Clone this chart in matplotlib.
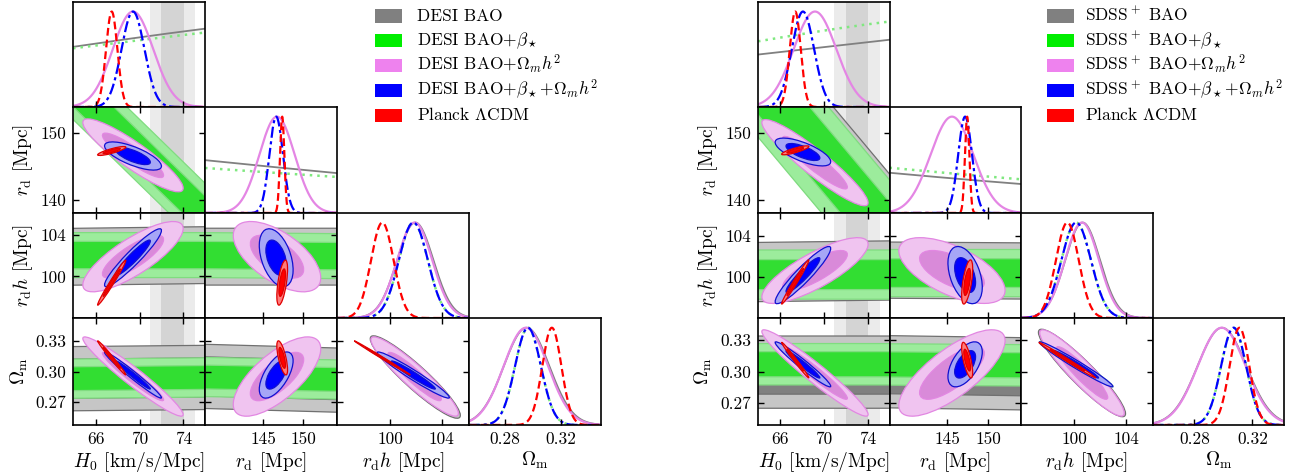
import numpy as np
import matplotlib
matplotlib.use('Agg')
import matplotlib.pyplot as plt
from matplotlib.patches import Ellipse, Rectangle

plt.rcParams['font.family'] = 'serif'
plt.rcParams['font.serif'] = ['cmr10']
plt.rcParams['mathtext.fontset'] = 'cm'
plt.rcParams['axes.formatter.use_mathtext'] = True
plt.rcParams['axes.unicode_minus'] = False

# parametros: H0, rd, rd*h, Omega_m
param_labels = [r'$H_0$ [km/s/Mpc]', r'$r_\mathrm{d}$ [Mpc]',
                r'$r_\mathrm{d}h$ [Mpc]', r'$\Omega_\mathrm{m}$']
x_ticks = [[66, 70, 74], [145, 150], [100, 104], [0.28, 0.32]]
x_tick_labels = [['66', '70', '74'], ['145', '150'], ['100', '104'], ['0.28', '0.32']]
y_ticks = [[], [140, 150], [100, 104], [0.27, 0.30, 0.33]]
y_tick_labels = [[], ['140', '150'], ['100', '104'], ['0.27', '0.30', '0.33']]
# ordem dos pares nas listas de correlacao
pairs = [(0, 1), (0, 2), (0, 3), (1, 2), (1, 3), (2, 3)]

# SH0ES
shoes_h0 = 73.04
shoes_sigma = 1.04

desi_labels = ['DESI BAO', r'DESI BAO$+\beta_\star$', r'DESI BAO$+\Omega_m h^2$',
               r'DESI BAO$+\beta_\star{+}\Omega_m h^2$', r'Planck $\Lambda$CDM']
sdss_labels = [r'SDSS$^+$ BAO', r'SDSS$^+$ BAO$+\beta_\star$', r'SDSS$^+$ BAO$+\Omega_m h^2$',
               r'SDSS$^+$ BAO$+\beta_\star{+}\Omega_m h^2$', r'Planck $\Lambda$CDM']

# ---- DESI ----
desi_xlim = [(63.9, 76.0), (137.7, 154.2), (95.9, 106.1), (0.2545, 0.3485)]
desi_ylim = [(0, 1.1), (138.05, 153.95), (96.0, 106.1), (0.247, 0.353)]

desi_om_mean = [69.4, 146.7, 101.9, 0.295]
desi_om_std = [1.85, 2.2, 1.36, 0.0158]
desi_om_corr = [-0.9, 0.8, -0.96, -0.6, 0.7, -0.93]
desi_all_mean = [69.4, 146.6, 101.8, 0.2965]
desi_all_std = [1.05, 0.85, 1.12, 0.0092]
desi_all_corr = [-0.72, 0.94, -0.98, -0.42, 0.62, -0.97]
desi_planck_mean = [67.45, 147.35, 99.4, 0.3135]
desi_planck_std = [0.52, 0.27, 0.87, 0.0068]
desi_planck_corr = [0.85, 0.985, -0.99, 0.6, -0.7, -0.998]

# BAO e BAO+beta: curvas 1D (media, sigma) e faixas 2D (mx, my, sx, inclinacao, sigma)
desi_bao_1d_mean = [98.9, 59.9, 101.95, 0.2955]
desi_bao_1d_std = [36.4, 71.0, 1.40, 0.0162]
desi_bs_1d_mean = [106.3, 16.8, 101.8, 0.2965]
desi_bs_1d_std = [43.0, 98.0, 1.12, 0.0092]
desi_bao_2d = [None,
               (70.0, 101.97, None, 0.013, 1.1),
               (70.0, 0.2935, None, 0.0001, 0.0128),
               (146.0, 101.9, None, 0.0, 1.1),
               (146.0, 0.2933, None, -0.000224, 0.0128),
               (101.95, 0.2945, 1.40, -0.0109, 0.0061)]
desi_bs_2d = [(70.77, 146.0, None, -1.596, 1.96),
              (70.0, 102.05, None, 0.0, 0.87),
              (70.0, 0.2935, None, 0.0001, 0.0078),
              (146.0, 102.0, None, -0.006, 0.87),
              (146.0, 0.2933, None, -0.00015, 0.0078),
              (101.8, 0.2965, 1.12, -0.0080, 0.00224)]

# ---- SDSS+ ----
sdss_xlim = [(64.0, 76.0), (138.0, 154.0), (95.9, 106.05), (0.2513, 0.3419)]
sdss_ylim = [(0, 1.1), (138.05, 153.95), (95.9, 106.3), (0.2494, 0.351)]

sdss_om_mean = [69.2, 145.6, 100.6, 0.2988]
sdss_om_std = [1.95, 2.6, 1.31, 0.0165]
sdss_om_corr = [-0.93, 0.8, -0.96, -0.6, 0.75, -0.93]
sdss_all_mean = [68.1, 147.2, 100.15, 0.307]
sdss_all_std = [1.02, 0.84, 1.14, 0.0086]
sdss_all_corr = [-0.7, 0.93, -0.97, -0.42, 0.55, -0.98]
sdss_planck_mean = [67.4, 147.45, 99.47, 0.311]
sdss_planck_std = [0.5, 0.27, 0.88, 0.0068]
sdss_planck_corr = [0.85, 0.985, -0.99, 0.6, -0.7, -0.995]

sdss_bao_1d_mean = [115.0, 45.5, 100.65, 0.2990]
sdss_bao_1d_std = [46.6, 70.0, 1.34, 0.0168]
sdss_bs_1d_mean = [90.3, 48.6, 100.15, 0.307]
sdss_bs_1d_std = [30.4, 72.7, 1.14, 0.0086]
sdss_bao_2d = [(70.39, 146.0, None, -1.96, 3.58),
               (70.0, 100.53, None, 0.013, 1.18),
               (70.0, 0.2996, None, 0.0, 0.0138),
               (146.0, 100.6, None, -0.005, 1.12),
               (146.0, 0.299, None, -0.00012, 0.0138),
               (100.6, 0.2988, 1.35, -0.0115, 0.0062)]
sdss_bs_2d = [(70.12, 146.0, None, -1.96, 3.44),
              (70.0, 100.2, None, 0.0, 0.98),
              (70.0, 0.3071, None, 0.0, 0.0079),
              (146.0, 100.35, None, 0.0, 0.94),
              (146.0, 0.3065, None, -0.00005, 0.0079),
              (100.15, 0.307, 1.14, -0.0074, 0.0017)]

# cores: BAO, BAO+beta, BAO+Omh2, todos, Planck
fill_outer = ['#c6c6c6', '#9cec9c', '#f0c4f0', '#a6a6f6', '#ff7c7c']
fill_inner = ['#808080', '#32de32', '#d98ad9', '#0000ff', '#ff0000']
edge_colors = ['#707070', '#80dc80', '#e287e2', '#1010d0', '#e00000']
line_colors = ['#808080', '#80e880', '#e486e4', '#0000ff', '#ff0000']
line_styles = ['-', (0, (1, 2)), '-', (0, (5, 1.6, 1.4, 1.6)), (0, (3.5, 1.8))]
line_widths = [1.3, 1.8, 1.6, 1.6, 1.6]
legend_colors = ['#808080', '#00ee00', '#ee82ee', '#0000ff', '#ff0000']
levels = [2.486, 1.515]  # contornos 95% e 68%

W, H = 1296, 476
fig = plt.figure(figsize=(W / 100, H / 100), dpi=100)

desi_cols = [73, 205, 337, 469, 601]
sdss_cols = [758, 889.5, 1021, 1152.7, 1284.3]
rows = [2, 107, 213, 318, 425]
legend_rows = [16, 40.5, 65.5, 90, 115]


def rect(x0, y0, x1, y1):
    return [x0 / W, 1 - y1 / H, (x1 - x0) / W, (y1 - y0) / H]


def add_contours(ax, mx, my, cov, k):
    vals, vecs = np.linalg.eigh(cov)
    ang = np.degrees(np.arctan2(vecs[1, 1], vecs[0, 1]))
    for n, (r, fc) in enumerate(zip(levels, [fill_outer[k], fill_inner[k]])):
        ax.add_patch(Ellipse((mx, my), 2 * r * np.sqrt(vals[1]), 2 * r * np.sqrt(vals[0]),
                             angle=ang, facecolor=fc, edgecolor=edge_colors[k],
                             lw=0.9, zorder=1 + 0.1 * k + 0.05 * n))


def draw_corner(cols, xlim, ylim, compact, b1d_mean, b1d_std, b2d):
    for i in range(4):
        for j in range(i + 1):
            ax = fig.add_axes(rect(cols[j], rows[i], cols[j + 1], rows[i + 1]))
            ax.set_axisbelow(False)
            ax.set_xlim(xlim[j])
            if j == 0:
                ax.axvspan(shoes_h0 - 2 * shoes_sigma, shoes_h0 + 2 * shoes_sigma,
                           color='#ebebeb', lw=0, zorder=0.5)
                ax.axvspan(shoes_h0 - shoes_sigma, shoes_h0 + shoes_sigma,
                           color='#d4d4d4', lw=0, zorder=0.6)
            if i == j:
                x = np.linspace(xlim[i][0], xlim[i][1], 500)
                for k in range(5):
                    if k < 2:
                        m, s = b1d_mean[k][i], b1d_std[k][i]
                    else:
                        m, s = compact[k - 2][0][i], compact[k - 2][1][i]
                    ax.plot(x, np.exp(-0.5 * ((x - m) / s) ** 2), color=line_colors[k],
                            ls=line_styles[k], lw=line_widths[k], zorder=2 + 0.05 * k)
                ax.set_ylim(0, 1.1)
                ax.set_yticks([])
                ax.tick_params(axis='x', direction='in', length=4.5, width=1,
                               labelsize=12.5, pad=5, top=False)
            else:
                p = pairs.index((j, i))
                for k in range(5):
                    if k < 2:
                        band = b2d[k][p]
                        if band is None:
                            continue
                        mx, my, sx, slope, sig = band
                        if sx is None:
                            sx = 20 * (xlim[j][1] - xlim[j][0])
                        cov = np.array([[sx ** 2, slope * sx ** 2],
                                        [slope * sx ** 2, slope ** 2 * sx ** 2 + sig ** 2]])
                    else:
                        mean, std, corr = compact[k - 2]
                        mx, my = mean[j], mean[i]
                        c = corr[p] * std[j] * std[i]
                        cov = np.array([[std[j] ** 2, c], [c, std[i] ** 2]])
                    add_contours(ax, mx, my, cov, k)
                ax.set_ylim(ylim[i])
                ax.set_yticks(y_ticks[i])
                if j == 0:
                    ax.set_yticklabels(y_tick_labels[i])
                    ax.set_ylabel(param_labels[i], fontsize=14, labelpad=4)
                else:
                    ax.set_yticklabels([])
                ax.tick_params(direction='in', length=4.5, width=1, labelsize=12.5, pad=5,
                               top=True, right=True)
            ax.set_xticks(x_ticks[j])
            if i == 3:
                ax.set_xticklabels(x_tick_labels[j])
                ax.set_xlabel(param_labels[j], fontsize=14, labelpad=2)
            else:
                ax.set_xticklabels([])
            for s in ax.spines.values():
                s.set_linewidth(1.2)


def draw_legend(x_patch, x_text, names):
    for k, name in enumerate(names):
        yc = legend_rows[k]
        fig.patches.append(Rectangle((x_patch / W, 1 - (yc + 6.5) / H), 27 / W, 13 / H,
                                     transform=fig.transFigure, facecolor=legend_colors[k],
                                     edgecolor='none'))
        fig.text(x_text / W, 1 - (yc + 5) / H, name, fontsize=12.5, va='baseline', ha='left')


draw_corner(desi_cols, desi_xlim, desi_ylim,
            [(desi_om_mean, desi_om_std, desi_om_corr),
             (desi_all_mean, desi_all_std, desi_all_corr),
             (desi_planck_mean, desi_planck_std, desi_planck_corr)],
            [desi_bao_1d_mean, desi_bs_1d_mean], [desi_bao_1d_std, desi_bs_1d_std],
            [desi_bao_2d, desi_bs_2d])
draw_corner(sdss_cols, sdss_xlim, sdss_ylim,
            [(sdss_om_mean, sdss_om_std, sdss_om_corr),
             (sdss_all_mean, sdss_all_std, sdss_all_corr),
             (sdss_planck_mean, sdss_planck_std, sdss_planck_corr)],
            [sdss_bao_1d_mean, sdss_bs_1d_mean], [sdss_bao_1d_std, sdss_bs_1d_std],
            [sdss_bao_2d, sdss_bs_2d])

draw_legend(375, 417, desi_labels)
draw_legend(1047, 1085, sdss_labels)

plt.savefig('out.png', dpi=100)
